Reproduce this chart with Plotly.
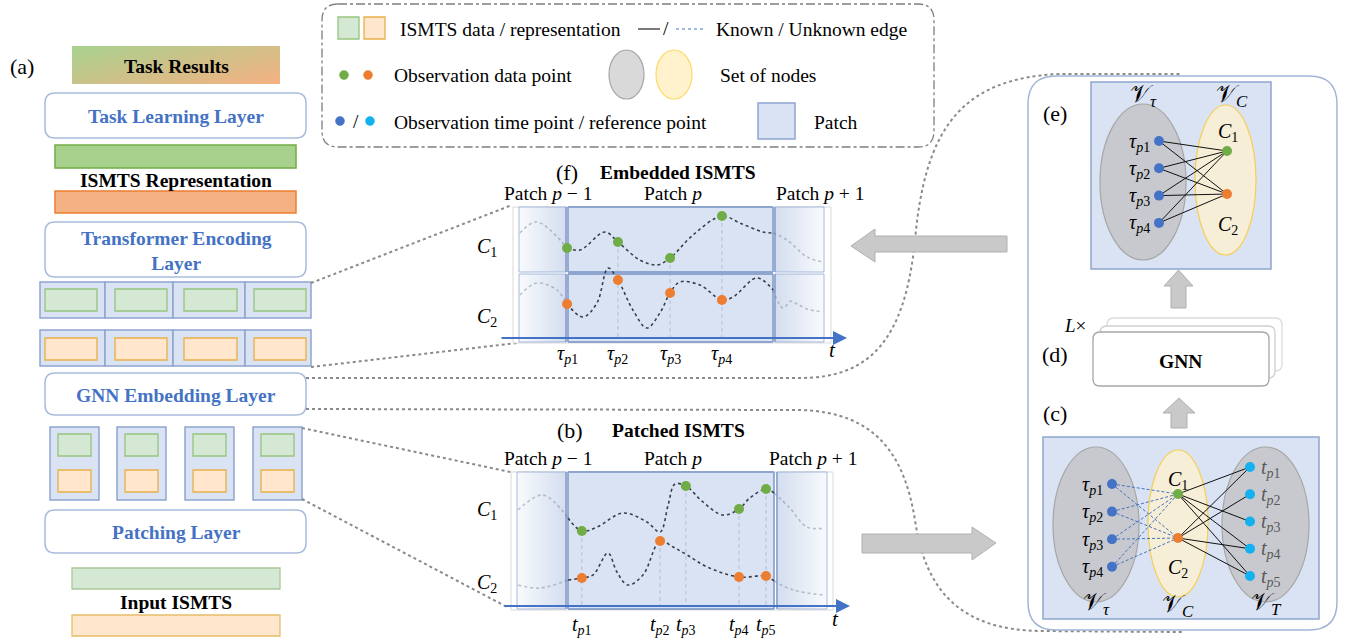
import numpy as np
import plotly.graph_objects as go

W, H = 1353, 642
SERIF = "Liberation Serif, Times New Roman, serif"

# ---------------- data ----------------
# Panel (f) Embedded ISMTS: time 0-100 across the panel, value 0-100 (bottom->top)
F_TAU = [17.0, 33.0, 49.4, 65.7]
F_TAU_LABELS = ["<i>τ</i><sub><i>p</i>1</sub>", "<i>τ</i><sub><i>p</i>2</sub>",
                "<i>τ</i><sub><i>p</i>3</sub>", "<i>τ</i><sub><i>p</i>4</sub>"]
F_C1_OBS = [69.9, 74.3, 62.5, 93.4]
F_C2_OBS = [28.7, 46.3, 36.8, 31.6]
F_C1_T = [2.2, 7.5, 17.0, 21.1, 28.9, 33.0, 39.9, 45.3, 49.4, 56.6, 65.7, 71.4, 78.6, 81.8, 86.2, 92.5, 97.5]
F_C1_V = [80.9, 89.0, 69.9, 68.4, 81.6, 74.3, 61.0, 57.4, 62.5, 79.4, 93.4, 88.2, 81.6, 80.9, 75.7, 63.2, 59.6]
F_C2_T = [2.2, 7.5, 13.8, 17.0, 22.0, 26.4, 29.9, 33.0, 37.7, 42.1, 46.2, 49.4, 52.5, 58.8, 65.7, 69.2,
          76.7, 81.8, 84.9, 87.4, 89.3, 92.5, 97.5]
F_C2_V = [35.3, 44.1, 39.0, 28.7, 19.1, 29.4, 55.1, 46.3, 24.3, 11.0, 22.1, 36.8, 44.9, 42.6, 31.6, 33.8,
          47.8, 39.0, 25.7, 30.9, 28.7, 25.0, 22.8]
F_WINDOW = [17.0, 81.8]

# Panel (b) Patched ISMTS
B_T = [22.0, 46.3, 54.3, 70.8, 79.2]
B_T_LABELS = ["<i>t</i><sub><i>p</i>1</sub>", "<i>t</i><sub><i>p</i>2</sub>", "<i>t</i><sub><i>p</i>3</sub>",
              "<i>t</i><sub><i>p</i>4</sub>", "<i>t</i><sub><i>p</i>5</sub>"]
B_C1_AT = [0, 2, 3, 4]
B_C1_OBS = [57.2, 89.9, 73.2, 87.7]
B_C2_AT = [0, 1, 3, 4]
B_C2_OBS = [23.2, 50.0, 23.9, 24.6]
B_C1_T = [2.2, 9.9, 17.7, 22.0, 26.7, 34.8, 42.2, 46.3, 48.8, 50.9, 54.3, 59.6, 65.8, 70.8, 74.2, 79.2,
          81.7, 86.6, 91.9, 97.5]
B_C1_V = [72.5, 83.3, 66.7, 57.2, 60.1, 70.3, 63.8, 56.5, 76.1, 91.3, 89.9, 78.3, 68.8, 73.2, 81.2, 87.7,
          84.8, 73.9, 60.1, 59.4]
B_C2_T = [2.2, 9.0, 17.7, 22.0, 25.5, 30.1, 32.9, 36.3, 41.0, 46.3, 50.3, 54.7, 60.9, 70.8, 79.2, 81.7, 87.6, 96.9]
B_C2_V = [18.1, 15.9, 21.7, 23.2, 25.4, 41.3, 27.5, 18.1, 25.4, 50.0, 45.7, 39.9, 31.2, 23.9, 24.6, 21.0, 14.5, 10.9]
B_WINDOW = [17.7, 81.7]

CHANNEL_LABELS = ["<i>C</i><sub>1</sub>", "<i>C</i><sub>2</sub>"]
N_PATCHES = 4

# ---------------- colours ----------------
BLUE_TXT = "#4472c4"
PATCH_FILL = "#dae3f3"
PATCH_LINE = "#8ea5cf"
BOX_LINE = "#a9bcde"
GREEN = "#70ad47"
ORANGE = "#ed7d31"
NODE_BLUE = "#4472c4"
NODE_CYAN = "#13b1ef"
DOTGRAY = "#8a8a8a"
LG_FILL, LG_LINE = "#d5e8d4", "#97c47e"
LO_FILL, LO_LINE = "#ffe6cc", "#e8b04a"
FAINT = "rgba(110,118,135,0.42)"
DARK = "#3a3f4c"

fig = go.Figure()
shapes = []
anns = []


def rect(x0, y0, x1, y1, fill="rgba(0,0,0,0)", line=None, lw=1.3, layer="below", dash=None):
    shapes.append(dict(type="rect", xref="x", yref="y", x0=x0, y0=y0, x1=x1, y1=y1, fillcolor=fill,
                       line=dict(color=line or "rgba(0,0,0,0)", width=lw if line else 0, dash=dash),
                       layer=layer))


def ellipse(x0, y0, x1, y1, fill, line, lw=1.2, layer="below"):
    shapes.append(dict(type="circle", xref="x", yref="y", x0=x0, y0=y0, x1=x1, y1=y1, fillcolor=fill,
                       line=dict(color=line, width=lw), layer=layer))


def path(d, fill="rgba(0,0,0,0)", line="#000", lw=1.3, dash=None, layer="below"):
    shapes.append(dict(type="path", xref="x", yref="y", path=d, fillcolor=fill,
                       line=dict(color=line, width=lw, dash=dash), layer=layer))


def rrect(x0, y0, x1, y1, r, **kw):
    d = (f"M{x0+r},{y0} L{x1-r},{y0} Q{x1},{y0} {x1},{y0+r} L{x1},{y1-r} Q{x1},{y1} {x1-r},{y1} "
         f"L{x0+r},{y1} Q{x0},{y1} {x0},{y1-r} L{x0},{y0+r} Q{x0},{y0} {x0+r},{y0} Z")
    path(d, **kw)


def poly(pts, **kw):
    d = "M" + " L".join(f"{x},{y}" for x, y in pts) + " Z"
    path(d, **kw)


def ann(x, y, text, size=19.5, color="black", xanchor="center", xref="x", yref="y"):
    anns.append(dict(x=x, y=y, xref=xref, yref=yref, text=text, showarrow=False, xanchor=xanchor,
                     yanchor="middle", font=dict(family=SERIF, size=size, color=color)))


def line(x0, y0, x1, y1, color, lw=1.2, dash=None, layer="below"):
    shapes.append(dict(type="line", xref="x", yref="y", x0=x0, y0=y0, x1=x1, y1=y1,
                       line=dict(color=color, width=lw, dash=dash), layer=layer))


def gradient(x0, y0, x1, y1, c0, c1, diag=False, n=60, m=1):
    xs = np.linspace(x0, x1, n + 1)
    ys = np.linspace(y0, y1, m + 1)
    jj = np.arange(n) / (n - 1)
    if diag:
        ii = np.arange(m) / (m - 1)
        z = 0.6 * jj[None, :] + 0.4 * ii[:, None]
    else:
        z = np.tile(jj, (m, 1))
    fig.add_trace(go.Heatmap(x=xs, y=ys, z=z, colorscale=[[0, c0], [1, c1]], showscale=False,
                             hoverinfo="skip", zmin=0, zmax=1, xaxis="x", yaxis="y"))


border_x, border_y = [], []
faint_x, faint_y = [], []


def seg(x0, y0, x1, y1, faint=False):
    bx, by = (faint_x, faint_y) if faint else (border_x, border_y)
    bx += [x0, x1, None]
    by += [y0, y1, None]


def side_patch(x0, y0, x1, y1, inner):
    # solid edge on the side facing the central patch, faint elsewhere
    seg(x0, y0, x1, y0, True)
    seg(x0, y1, x1, y1, True)
    if inner == "right":
        seg(x1, y0, x1, y1)
        seg(x0, y0, x0, y1, True)
    else:
        seg(x0, y0, x0, y1)
        seg(x1, y0, x1, y1, True)


def box(x0, y0, x1, y1):
    for a in [(x0, y0, x1, y0), (x1, y0, x1, y1), (x1, y1, x0, y1), (x0, y1, x0, y0)]:
        seg(*a)


# ---------------- legend box ----------------
rrect(322, 4, 934, 147, 16, line="#7f7f7f", lw=1.3, dash="dashdot")
rect(338, 17, 359, 39, LG_FILL, LG_LINE)
rect(364, 17, 385, 39, LO_FILL, LO_LINE)
ann(398, 29, "ISMTS data / representation", xanchor="left")
line(638, 29, 660, 29, "#222", 1.2)
ann(666, 28, "/")
line(676, 29, 706, 29, "#4472c4", 1.2, dash="dot")
ann(714, 29, "Known / Unknown edge", xanchor="left")
ellipse(339.5, 70.5, 348.5, 79.5, GREEN, GREEN, 0.5)
ellipse(363.5, 70.5, 372.5, 79.5, ORANGE, ORANGE, 0.5)
ann(392, 75, "Observation data point", xanchor="left")
ellipse(609, 50, 644, 99, "#d9d9d9", "#a6a6a6")
ellipse(656, 50, 692, 99, "#fff2cc", "#ffd966")
ann(718, 75, "Set of nodes", xanchor="left")
ellipse(335.5, 116.5, 344.5, 125.5, NODE_BLUE, NODE_BLUE, 0.5)
ann(356, 121, "/")
ellipse(365.5, 116.5, 374.5, 125.5, NODE_CYAN, NODE_CYAN, 0.5)
ann(392, 122, "Observation time point / reference point", xanchor="left")
rect(758, 103, 795, 139, PATCH_FILL, PATCH_LINE, 1.5)
ann(812, 122, "Patch", xanchor="left")

# ---------------- left column (a) ----------------
ann(22, 66, "(a)", size=22)
gradient(72, 46, 280, 84, "#a9d18e", "#f4b183", diag=True, n=60, m=12)
ann(176, 66, "<b>Task Results</b>")
rrect(45, 93, 306, 138, 10, fill="white", line=BOX_LINE, lw=1.5)
ann(176, 116, "<b>Task Learning Layer</b>", color=BLUE_TXT)
rect(55, 145, 296, 168, "#a9d18e", GREEN, 1.5)
ann(176, 180, "<b>ISMTS Representation</b>")
rect(55, 191, 296, 213, "#f4b183", ORANGE, 1.5)
rrect(45, 222, 306, 277, 10, fill="white", line=BOX_LINE, lw=1.5)
ann(176, 250.5, "<b>Transformer Encoding<br>Layer</b>", color=BLUE_TXT)

cell_edges = [40, 105, 173, 245, 311]
inner_x = [(45, 97), (115, 167), (184, 237), (254, 306)]
for (ry0, ry1, iy0, iy1, f, l) in [(282, 318, 289, 311, LG_FILL, LG_LINE), (330, 366, 338, 360, LO_FILL, LO_LINE)]:
    for k in range(N_PATCHES):
        rect(cell_edges[k], ry0, cell_edges[k + 1], ry1, PATCH_FILL, PATCH_LINE, 1.5)
        rect(inner_x[k][0], iy0, inner_x[k][1], iy1, f, l, 1.3)

rrect(45, 373, 306, 415, 10, fill="white", line=BOX_LINE, lw=1.5)
ann(176, 395, "<b>GNN Embedding Layer</b>", color=BLUE_TXT)

patch_x0 = [50, 117, 185, 253]
for k in range(N_PATCHES):
    x0 = patch_x0[k]
    rect(x0, 427, x0 + 49, 500, PATCH_FILL, PATCH_LINE, 1.5)
    rect(x0 + 8, 434, x0 + 41, 456, LG_FILL, LG_LINE, 1.3)
    rect(x0 + 8, 470, x0 + 41, 492, LO_FILL, LO_LINE, 1.3)

rrect(45, 510, 306, 553, 10, fill="white", line=BOX_LINE, lw=1.5)
ann(176, 532, "<b>Patching Layer</b>", color=BLUE_TXT)
rect(72, 568, 280, 589, LG_FILL, "#a9c89a", 1.3)
ann(176, 602, "<b>Input ISMTS</b>")
rect(72, 615, 280, 636, LO_FILL, "#e6bd6a", 1.3)

# ---------------- dotted connectors ----------------
for (x0, y0, x1, y1) in [(311, 283, 512, 205), (311, 367, 517, 343), (302, 428, 515, 473), (302, 499, 507, 607)]:
    line(x0, y0, x1, y1, DOTGRAY, 2, dash="dot")
path("M306,378 L800,378 C870,378 905,340 915,240 C925,130 960,78 1060,74 L1182,74", line=DOTGRAY, lw=2, dash="dot")
path("M306,409 L800,410 C880,412 905,460 915,520 C925,590 960,630 1040,631 L1182,632", line=DOTGRAY, lw=2, dash="dot")

# ---------------- panel (f) frame ----------------
ann(567, 172, "(f)", size=22)
ann(678, 172, "<b>Embedded ISMTS</b>")
ann(548, 193, "Patch <i>p</i> − 1")
ann(673, 193, "Patch <i>p</i>")
ann(820, 193, "Patch <i>p</i> + 1")
rect(513, 207, 831, 343, "white", "#d9d9d9", 1)
for (ry0, ry1) in [(207, 272), (274, 342)]:
    rect(568, ry0, 773, ry1, PATCH_FILL)
    gradient(519, ry0, 566, ry1, "#f8fafd", "#d4deef")
    gradient(775, ry0, 824, ry1, "#d4deef", "#f8fafd")
    side_patch(519, ry0, 566, ry1, "right")
    box(568, ry0, 773, ry1)
    side_patch(775, ry0, 824, ry1, "left")
ann(487, 247, CHANNEL_LABELS[0], size=20)
ann(487, 317, CHANNEL_LABELS[1], size=20)
ann(832, 350, "<i>t</i>", size=21)

# ---------------- panel (b) frame ----------------
ann(570, 430, "(b)", size=22)
ann(678, 430, "<b>Patched ISMTS</b>")
ann(548, 458, "Patch <i>p</i> − 1")
ann(673, 458, "Patch <i>p</i>")
ann(813, 458, "Patch <i>p</i> + 1")
rect(511, 472, 833, 610, "white", "#d9d9d9", 1)
rect(568, 472, 774, 609, PATCH_FILL)
gradient(517, 472, 566, 609, "#f8fafd", "#d4deef")
gradient(777, 472, 827, 609, "#d4deef", "#f8fafd")
side_patch(517, 472, 566, 609, "right")
box(568, 472, 774, 609)
side_patch(777, 472, 827, 609, "left")
ann(487, 510, CHANNEL_LABELS[0], size=20)
ann(487, 583, CHANNEL_LABELS[1], size=20)
ann(835, 619, "<i>t</i>", size=21)

fig.add_trace(go.Scatter(x=faint_x, y=faint_y, mode="lines", line=dict(color="rgba(142,165,207,0.5)", width=1.5),
                         hoverinfo="skip", xaxis="x", yaxis="y"))
fig.add_trace(go.Scatter(x=border_x, y=border_y, mode="lines", line=dict(color=PATCH_LINE, width=1.8),
                         hoverinfo="skip", xaxis="x", yaxis="y"))

# time axes (arrows)
for (y, x0, x1) in [(338, 500, 847), (606, 503, 850)]:
    anns.append(dict(x=x1, y=y, ax=x0, ay=y, xref="x", yref="y", axref="x", ayref="y", text="",
                     showarrow=True, arrowhead=2, arrowsize=1.4, arrowwidth=2, arrowcolor="#4472c4", standoff=0))

# ---------------- right box ----------------
rrect(1028, 76, 1337, 630, 28, line="#a3b5d6", lw=1.5)
ann(1055, 113, "(e)", size=22)
ann(1055, 354, "(d)", size=22)
ann(1055, 413, "(c)", size=22)

# (e) graph
rect(1091, 82, 1271, 269, PATCH_FILL, PATCH_LINE, 1.5)
ellipse(1100, 104, 1186, 260, "rgba(191,191,191,0.72)", "#a6a6a6")
ellipse(1195, 105, 1256, 255, "rgba(255,242,204,0.75)", "#f5cf55")
ann(1143, 96, "𝒱<sub><i>τ</i></sub>", size=24)
ann(1232, 96, "𝒱<sub><i>C</i></sub>", size=24)

# (d) GNN stack
rrect(1107, 318, 1282, 371, 7, fill="white", line="#dcdcdc", lw=1.3)
rrect(1100, 326, 1275, 378, 7, fill="white", line="#cfcfcf", lw=1.3)
rrect(1093, 332, 1269, 386, 7, fill="white", line="#a6a6a6", lw=1.3)
ann(1180, 361, "<b>GNN</b>")
ann(1075, 325, "<i>L</i>×", size=19)

# (c) graph
rect(1043, 437, 1319, 619, PATCH_FILL, PATCH_LINE, 1.5)
ellipse(1053, 447, 1139, 602, "rgba(191,191,191,0.72)", "#a6a6a6")
ellipse(1148, 450, 1208, 597, "rgba(255,242,204,0.75)", "#f5cf55")
ellipse(1222, 447, 1309, 602, "rgba(191,191,191,0.72)", "#a6a6a6")
ann(1096, 604, "𝒱<sub><i>τ</i></sub>", size=24)
ann(1178, 606, "𝒱<sub><i>C</i></sub>", size=24)
ann(1266, 604, "𝒱<sub><i>T</i></sub>", size=24)

# node layouts
e_tau = [(1159, 141 + 27.3 * i) for i in range(len(F_TAU))]
e_ch = [(1227, 151), (1227, 194)]
c_tau = [(1112, 484 + 27.6 * i) for i in range(len(F_TAU))]
c_ch = [(1178, 494), (1178, 538)]
c_t = [(1250, 467 + 27.25 * k) for k in range(len(B_T))]


def seg_trace(pairs, color, dash=None, width=1):
    xs, ys = [], []
    for (a, b) in pairs:
        xs += [a[0], b[0], None]
        ys += [a[1], b[1], None]
    fig.add_trace(go.Scatter(x=xs, y=ys, mode="lines", line=dict(color=color, width=width, dash=dash),
                             hoverinfo="skip", xaxis="x", yaxis="y"))


seg_trace([(a, b) for a in e_tau for b in e_ch], "#111111")
seg_trace([(a, b) for a in c_tau for b in c_ch], "#4472c4", dash="3px,2px")
known = [(c_ch[0], c_t[k]) for k in B_C1_AT] + [(c_ch[1], c_t[k]) for k in B_C2_AT]
seg_trace(known, "#111111")


def nodes(pts, colors):
    fig.add_trace(go.Scatter(x=[p[0] for p in pts], y=[p[1] for p in pts], mode="markers",
                             marker=dict(size=10, color=colors, line=dict(width=0)), hoverinfo="skip",
                             xaxis="x", yaxis="y"))


nodes(e_tau, NODE_BLUE)
nodes(e_ch, [GREEN, ORANGE])
nodes(c_tau, NODE_BLUE)
nodes(c_ch, [GREEN, ORANGE])
nodes(c_t, NODE_CYAN)

for i, (x, y) in enumerate(e_tau):
    ann(x - 7, y + 1, F_TAU_LABELS[i], size=20, xanchor="right")
for i, (x, y) in enumerate(c_tau):
    ann(x - 7, y + 1, F_TAU_LABELS[i], size=20, xanchor="right")
for k, (x, y) in enumerate(c_t):
    ann(x + 9, y + 1, B_T_LABELS[k], size=20, xanchor="left", color="#595959")
ann(1228, 132, CHANNEL_LABELS[0], size=20)
ann(1228, 225, CHANNEL_LABELS[1], size=20)
ann(1178, 480, CHANNEL_LABELS[0], size=20)
ann(1178, 568, CHANNEL_LABELS[1], size=20)

# ---------------- grey arrows (above) ----------------
AR_FILL, AR_LINE = "#c9c9c9", "#b0b0b0"
poly([(851, 246), (875, 229), (875, 236), (1007, 236), (1007, 252), (875, 252), (875, 262)],
     fill=AR_FILL, line=AR_LINE, lw=1, layer="above")
poly([(862, 534), (972, 534), (972, 527), (996, 543), (972, 560), (972, 553), (862, 553)],
     fill=AR_FILL, line=AR_LINE, lw=1, layer="above")
poly([(1178.5, 270), (1193, 286), (1186, 286), (1186, 308), (1171, 308), (1171, 286), (1164, 286)],
     fill=AR_FILL, line=AR_LINE, lw=1, layer="above")
poly([(1179, 398), (1195, 413), (1187, 413), (1187, 428), (1171, 428), (1171, 413), (1163, 413)],
     fill=AR_FILL, line=AR_LINE, lw=1, layer="above")


# ---------------- time-series panels on their own axes ----------------
def panel_axes(idx, px0, px1, py0, py1):
    fig.update_layout(**{
        f"xaxis{idx}": dict(domain=[px0 / W, px1 / W], range=[0, 100], visible=False, anchor=f"y{idx}",
                            fixedrange=True),
        f"yaxis{idx}": dict(domain=[1 - py1 / H, 1 - py0 / H], range=[0, 100], visible=False,
                            anchor=f"x{idx}", fixedrange=True),
    })


panel_axes(2, 513, 831, 207, 343)
panel_axes(3, 511, 833, 472, 610)


def curve(t, v, window, xa, ya):
    t = np.array(t)
    v = np.array(v)
    lo, hi = window
    for mask, col in [(t <= lo, FAINT), ((t >= lo) & (t <= hi), DARK), (t >= hi, FAINT)]:
        fig.add_trace(go.Scatter(x=t[mask], y=v[mask], mode="lines",
                                 line=dict(color=col, width=1.6, dash="dot", shape="spline", smoothing=1.0),
                                 xaxis=xa, yaxis=ya, hoverinfo="skip", cliponaxis=False))


def verticals(ts, tops, base, xa, ya):
    xs, ys = [], []
    for t, top in zip(ts, tops):
        xs += [t, t, None]
        ys += [top, base, None]
    fig.add_trace(go.Scatter(x=xs, y=ys, mode="lines",
                             line=dict(color="rgba(140,165,205,0.55)", width=1, dash="4px,3px"),
                             xaxis=xa, yaxis=ya, hoverinfo="skip", cliponaxis=False))


# (f)
verticals(F_TAU, [max(a, b) for a, b in zip(F_C1_OBS, F_C2_OBS)], 3.7, "x2", "y2")
curve(F_C1_T, F_C1_V, F_WINDOW, "x2", "y2")
curve(F_C2_T, F_C2_V, F_WINDOW, "x2", "y2")
fig.add_trace(go.Scatter(x=F_TAU, y=F_C1_OBS, mode="markers", marker=dict(size=10, color=GREEN),
                         xaxis="x2", yaxis="y2", hoverinfo="skip", cliponaxis=False))
fig.add_trace(go.Scatter(x=F_TAU, y=F_C2_OBS, mode="markers", marker=dict(size=10, color=ORANGE),
                         xaxis="x2", yaxis="y2", hoverinfo="skip", cliponaxis=False))
for i, t in enumerate(F_TAU):
    ann(t, 354, F_TAU_LABELS[i], size=20, xref="x2", yref="y")

# (b)
b_tops = []
for k in range(len(B_T)):
    vals = [B_C1_OBS[B_C1_AT.index(k)]] if k in B_C1_AT else []
    vals += [B_C2_OBS[B_C2_AT.index(k)]] if k in B_C2_AT else []
    b_tops.append(max(vals))
verticals(B_T, b_tops, 2.9, "x3", "y3")
curve(B_C1_T, B_C1_V, B_WINDOW, "x3", "y3")
curve(B_C2_T, B_C2_V, B_WINDOW, "x3", "y3")
fig.add_trace(go.Scatter(x=[B_T[k] for k in B_C1_AT], y=B_C1_OBS, mode="markers", marker=dict(size=10, color=GREEN),
                         xaxis="x3", yaxis="y3", hoverinfo="skip", cliponaxis=False))
fig.add_trace(go.Scatter(x=[B_T[k] for k in B_C2_AT], y=B_C2_OBS, mode="markers", marker=dict(size=10, color=ORANGE),
                         xaxis="x3", yaxis="y3", hoverinfo="skip", cliponaxis=False))
for k, t in enumerate(B_T):
    ann(t, 625, B_T_LABELS[k], size=20, xref="x3", yref="y")

fig.update_layout(
    width=W, height=H, margin=dict(l=0, r=0, t=0, b=0),
    paper_bgcolor="white", plot_bgcolor="rgba(0,0,0,0)", showlegend=False,
    xaxis=dict(domain=[0, 1], range=[0, W], visible=False, fixedrange=True),
    yaxis=dict(domain=[0, 1], range=[H, 0], visible=False, fixedrange=True),
    shapes=shapes, annotations=anns,
)
fig.write_html("out.html", config={"displayModeBar": False},
               post_script="document.body.style.margin='0';document.body.style.padding='0';"
                           "document.body.style.overflow='hidden';")
